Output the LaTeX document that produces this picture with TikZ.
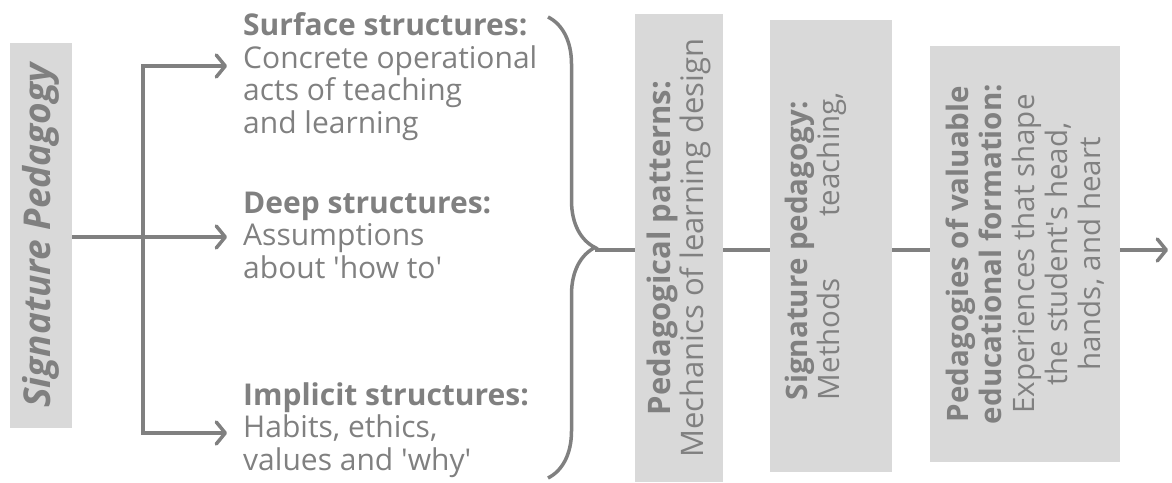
\documentclass[tikz,border=0pt]{standalone}
\usepackage{fontspec}
\setmainfont{Open Sans}
\usetikzlibrary{arrows.meta}
\usetikzlibrary{decorations.pathreplacing}
\definecolor{panelgray}{HTML}{D9D9D9}
\definecolor{inkgray}{HTML}{808080}
\newcommand{\bigtext}[1]{\fontsize{#1pt}{32.5pt}\selectfont}
\tikzset{panel/.style={rectangle, fill=panelgray, inner sep=0pt, rotate=90, text=inkgray, font=\bigtext{29.5}}}
\tikzset{branch/.style={align=left, inner sep=0pt, text=inkgray, font=\bigtext{30}}}
\tikzset{wire/.style={draw=inkgray, line width=3.5pt}}
\tikzset{arrowhd/.style={-{Straight Barb[length=9pt,width=22pt,round]}}}

\begin{document}
\begin{tikzpicture}[x=1pt,y=-1pt]
  \useasboundingbox (0,0) rectangle (1172,482);
  \node[panel, minimum width=385pt, minimum height=62pt, font=\bfseries\itshape\bigtext{37}] (sig) at (41,235.5) {Signature Pedagogy};
  \foreach \n/\y/\head/\body in {
    surf/133/Surface structures:/{Concrete operational\\acts of teaching\\and learning},
    deep/278/Deep structures:/{Assumptions\\about \textquotesingle how to\textquotesingle},
    impl/470/Implicit structures:/{Habits, ethics,\\values and \textquotesingle why\textquotesingle}%
  } {
    \node[branch, anchor=base west] (\n) at (243,\y) {\textbf{\head}\\\body};
  }
  \coordinate (split) at (143,237);
  \draw[wire, arrowhd] (sig.south |- split) -- ([xshift=-16pt, yshift=41pt]deep.base west);
  \draw[wire, arrowhd] (split) |- ([xshift=-16pt, yshift=67pt]surf.base west);
  \draw[wire, arrowhd] (split) |- ([xshift=-16pt, yshift=37pt]impl.base west);
  % brace and the chain of panels
  \draw[wire, decorate, decoration={brace, amplitude=47pt}] (548,17) -- (548,478);
  \coordinate (bt) at (595,250);
  \node[panel, align=center, minimum width=468pt, minimum height=88pt, font=\bigtext{31}] (pat) at (679,248)
    {\textbf{Pedagogical patterns:}\\Mechanics of learning design};
  \node[panel, minimum width=452pt, minimum height=122pt] (meth) at (831,246) {};
  \node[panel, fill=none, align=left, anchor=north] (methtxt) at ([xshift=15pt]meth.north)
    {\textbf{Signature pedagogy:}\\Methods\hspace{62pt}teaching,};
  \node[panel, align=center, minimum width=416pt, minimum height=190pt, font=\fontsize{29.5pt}{33pt}\selectfont] (form) at (1025,254)
    {\textbf{Pedagogies of valuable}\\\textbf{educational formation:}\\Experiences that shape\\the student\textquotesingle s head,\\hands, and heart};
  \coordinate (out) at (1168,250);
  \draw[wire] (bt) -- (bt -| pat.north);
  \draw[wire] (bt -| pat.south) -- (bt -| meth.north);
  \draw[wire] (bt -| meth.south) -- (bt -| form.north);
  \draw[wire, arrowhd] (bt -| form.south) -- (out);
\end{tikzpicture}
\end{document}
